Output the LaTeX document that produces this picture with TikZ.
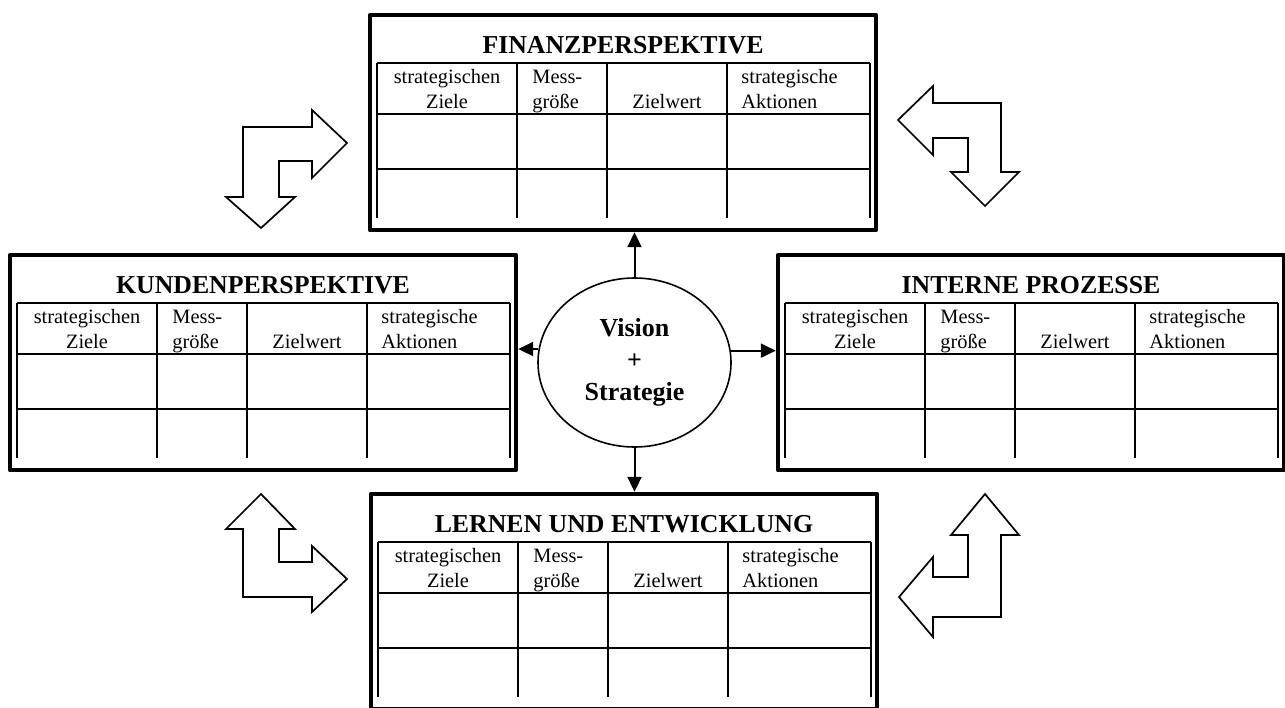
\documentclass[tikz,border=0pt]{standalone}
\usepackage{fontspec}
\setmainfont{Liberation Serif}
\usetikzlibrary{shapes.geometric,arrows.meta}

\tikzset{
  panel/.style={draw,line width=2.2pt,minimum width=253pt,minimum height=107.5pt,
    inner sep=0pt,outer sep=0pt,anchor=north west},
  grid/.style={line width=1.1pt},
  ptitle/.style={font=\fontsize{12.9}{14}\selectfont\bfseries,anchor=base,inner sep=0pt},
  cell/.style={font=\fontsize{10.2}{11}\selectfont,inner sep=0pt},
  turn/.style={draw,line width=0.85pt,line join=miter},
  conn/.style={line width=1pt,shorten >=1.1pt,-{Triangle[length=7.5pt,width=7pt]}},
}

% one perspective: frame, title and the empty table
\newcommand{\bscpanel}[4]{%
  \node[panel] (#1) at (#2,#3) {};
  \begin{scope}[shift={(#1.north west)}]
    \node[ptitle] (#1-t) at (253,38) {#4};
    \foreach \ry in {48,99,154} \draw[grid] (7,\ry) -- (500,\ry);
    \foreach \cx in {7,147,237,357,500} \draw[grid] (\cx,48) -- (\cx,203);
    \node[cell,anchor=base] (#1-a1) at (77,68) {strategischen};
    \node[cell,anchor=base] (#1-a2) at (77,93) {Ziele};
    \node[cell,anchor=base west] (#1-b1) at (162,68) {Mess-};
    \node[cell,anchor=base west] (#1-b2) at (162,93) {größe};
    \node[cell,anchor=base] (#1-c2) at (297,93) {Zielwert};
    \node[cell,anchor=base west] (#1-d1) at (371,68) {strategische};
    \node[cell,anchor=base west] (#1-d2) at (371,93) {Aktionen};
  \end{scope}}

\begin{document}
\begin{tikzpicture}[x=0.5pt,y=-0.5pt,line join=round]
  \useasboundingbox (0,0) rectangle (1285,707);

  \bscpanel{fin}{370}{15}{FINANZPERSPEKTIVE}
  \bscpanel{kun}{10}{255}{KUNDENPERSPEKTIVE}
  \bscpanel{int}{778}{255}{INTERNE PROZESSE}
  \bscpanel{lern}{371}{494}{LERNEN UND ENTWICKLUNG}

  \node[ellipse,draw,line width=0.8pt,minimum width=96.5pt,minimum height=84.5pt,
    inner sep=0pt,align=center,font=\fontsize{13}{16}\selectfont\bfseries]
    (vs) at (634.5,362.5) {Vision\\+\\Strategie};

  \draw[conn] (vs.north) -- (vs.north |- fin.south);
  \draw[conn] (vs.south) -- (vs.south |- lern.north);
  \draw[conn] (vs.172.6) -- (vs.172.6 -| kun.east);
  \draw[conn] (vs.7.4) -- (vs.7.4 -| int.west);

  % turning arrows between the perspectives
  \draw[turn] (347,143) -- (312,110) -- (312,127) -- (243,127) -- (243,197) -- (226,197)
    -- (261,228) -- (295,197) -- (279,197) -- (279,161) -- (312,161) -- (312,178) -- cycle;
  \draw[turn] (898,120) -- (933,86) -- (933,103) -- (1001,103) -- (1001,172) -- (1019,172)
    -- (985,206) -- (951,172) -- (968,172) -- (968,138) -- (933,138) -- (933,155) -- cycle;
  \draw[turn] (261,494) -- (295,529) -- (279,529) -- (279,562) -- (312,562) -- (312,546)
    -- (347,579) -- (312,612) -- (312,597) -- (243,597) -- (243,529) -- (226,529) -- cycle;
  \draw[turn] (985,494) -- (1019,535) -- (1001,535) -- (1001,617) -- (933,617) -- (933,637)
    -- (899,597) -- (933,557) -- (933,577) -- (968,577) -- (968,535) -- (951,535) -- cycle;
\end{tikzpicture}
\end{document}
